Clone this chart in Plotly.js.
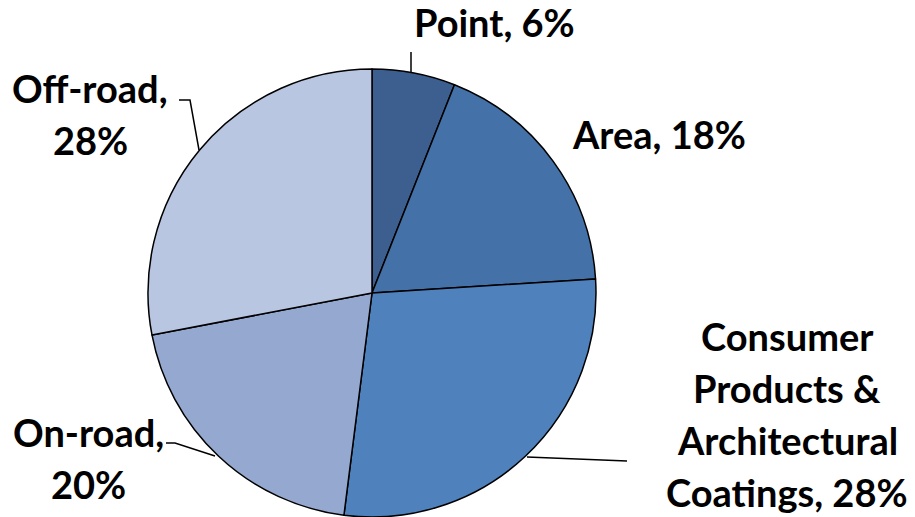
<!DOCTYPE html>
<html><head><meta charset="utf-8">
<script src="https://cdn.plot.ly/plotly-3.0.1.min.js"></script>
<style>html,body{margin:0;padding:0;background:#fff}</style>
</head><body>
<div id="chart" style="width:915px;height:517px"></div>
<script>
const categories = ["Point", "Area", "Consumer Products & Architectural Coatings", "On-road", "Off-road"];
const shares = [6, 18, 28, 20, 28];
const colors = ["#3c5f8f", "#4472a8", "#4f81bd", "#95a9d0", "#b9c6e1"];
const labelLines = [
  ["Point, 6%"],
  ["Area, 18%"],
  ["Consumer", "Products &", "Architectural", "Coatings, 28%"],
  ["Off-road,", "28%"],
  ["On-road,", "20%"]
];

const W = 915, H = 517;
const px = x => x / W, py = y => 1 - y / H;
const font = {family: "Lato, 'DejaVu Sans', sans-serif", size: 38, weight: 700, color: "#000"};

// label placements (pixel centre of first line) and line spacing
const labelPos = [
  {x: 494, y: 22, dy: 52},
  {x: 659, y: 134, dy: 52},
  {x: 787, y: 336, dy: 52},
  {x: 90, y: 88, dy: 52},
  {x: 88, y: 432, dy: 52}
];
const annotations = [];
labelLines.forEach((lines, i) => {
  lines.forEach((t, j) => {
    annotations.push({
      text: t, xref: "paper", yref: "paper",
      x: px(labelPos[i].x), y: py(labelPos[i].y + j * labelPos[i].dy),
      xanchor: "center", yanchor: "middle", showarrow: false, font: font,
      borderpad: 0
    });
  });
});

const leaders = [
  [[411, 52], [411, 72]],
  [[527, 457], [627, 461]],
  [[179, 100], [190, 100], [199, 150]],
  [[166, 443], [175, 443], [215, 456]]
];
const shapes = leaders.map(pts => ({
  type: "path", xref: "paper", yref: "paper",
  path: pts.map((p, k) => (k ? "L" : "M") + px(p[0]) + "," + py(p[1])).join(" "),
  line: {color: "#000", width: 1.5}
}));

const data = [{
  type: "pie",
  labels: categories,
  values: shares,
  sort: false,
  direction: "clockwise",
  rotation: 0,
  textinfo: "none",
  hoverinfo: "label+percent",
  marker: {colors: colors, line: {color: "#000", width: 1.5}},
  domain: {x: [(372 - 224) / W, (372 + 224) / W], y: [0, 448 / H]}
}];

const layout = {
  width: W, height: H,
  margin: {l: 0, r: 0, t: 0, b: 0},
  showlegend: false,
  paper_bgcolor: "#fff",
  annotations: annotations,
  shapes: shapes
};
Plotly.newPlot("chart", data, layout, {displayModeBar: false, staticPlot: true});
</script>
</body></html>
